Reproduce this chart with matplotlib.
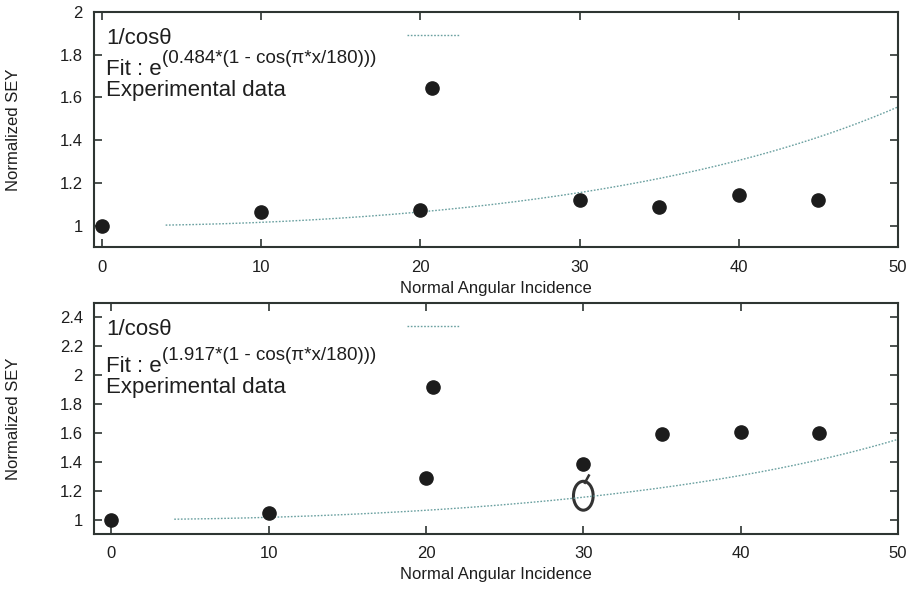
import numpy as np
import matplotlib
matplotlib.use("Agg")
import matplotlib.pyplot as plt
from matplotlib.patches import Ellipse

plt.rcParams['font.family'] = ['Liberation Sans', 'DejaVu Sans']

# measured angles (deg) and normalized secondary electron yield
angles = [0, 10, 20, 30, 35, 40, 45]
sey_a = [1.0, 1.063, 1.071, 1.122, 1.086, 1.142, 1.118]
sey_b = [1.0, 1.048, 1.29, 1.386, 1.595, 1.605, 1.60]

fit_labels = ["(0.484*(1 - cos(\u03c0*x/180)))", "(1.917*(1 - cos(\u03c0*x/180)))"]
x_ticks = [0, 10, 20, 30, 40, 50]
y_ticks_a = [1, 1.2, 1.4, 1.6, 1.8, 2]
y_ticks_b = [1, 1.2, 1.4, 1.6, 1.8, 2, 2.2, 2.4]

# hand drawn loop on the lower plot
ink_x, ink_y = 30, 1.165

theta = np.linspace(4, 50, 200)
inv_cos = 1 / np.cos(np.pi * theta / 180)

curve_col = '#6aa0a0'
dot_col = '#1c1c1c'
frame_col = '#2e3532'
txt_col = '#1e1e1e'

fig = plt.figure(figsize=(9.15, 5.93), dpi=100)
ax1 = fig.add_axes([94 / 915, 1 - 247 / 593, 804 / 915, 235 / 593])
ax2 = fig.add_axes([94 / 915, 1 - 534 / 593, 804 / 915, 231 / 593])


def style(ax, yticks, xmin, ymax, row_y, line_y, mark_xy, fit_txt):
    ax.plot(theta, inv_cos, color=curve_col, lw=1.0, ls=(0, (1.2, 1.2)))
    ax.set_xlim(xmin, 50)
    ax.set_ylim(0.9, ymax)
    ax.set_xticks(x_ticks)
    ax.set_yticks(yticks)
    ax.set_yticklabels([f"{v:g}" for v in yticks])
    ax.tick_params(direction='in', length=6, width=1.2, colors=frame_col,
                   labelcolor=txt_col, labelsize=12, top=True, right=True)
    ax.tick_params(axis='x', pad=9)
    ax.tick_params(axis='y', pad=8)
    for s in ax.spines.values():
        s.set_color(frame_col)
        s.set_linewidth(1.5)
    ax.set_xlabel('Normal Angular Incidence', fontsize=12, color=txt_col)
    ax.set_ylabel('Normalized SEY', fontsize=12, color=txt_col)
    ax.xaxis.set_label_coords(0.5, -0.145)
    ax.yaxis.set_label_coords(-0.091, 0.5)

    # key: text on the left, samples on the right
    ax.text(0.015, row_y[0], '1/cos\u03b8', transform=ax.transAxes,
            fontsize=16, va='center', color=txt_col)
    t = ax.text(0.015, row_y[1], 'Fit : e', transform=ax.transAxes,
                fontsize=16, va='center', color=txt_col)
    ax.annotate(fit_txt, xy=(1.0, 0.62), xycoords=t, va='bottom', ha='left',
                fontsize=13.5, color=txt_col)
    ax.text(0.015, row_y[2], 'Experimental data', transform=ax.transAxes,
            fontsize=16, va='center', color=txt_col)
    ax.plot([0.389, 0.455], [line_y, line_y], transform=ax.transAxes,
            color=curve_col, lw=1.0, ls=(0, (1.2, 1.2)))
    ax.plot([mark_xy[0]], [mark_xy[1]], 'o', transform=ax.transAxes,
            color=dot_col, ms=9.5)


style(ax1, y_ticks_a, -0.5, 2.0, [0.889, 0.757, 0.668], 0.902, (0.420, 0.677), fit_labels[0])
style(ax2, y_ticks_b, -1.1, 2.5, [0.887, 0.727, 0.634], 0.900, (0.4216, 0.636), fit_labels[1])

ax1.plot(angles, sey_a, 'o', color=dot_col, ms=9.5, clip_on=False)
ax2.plot(angles, sey_b, 'o', color=dot_col, ms=9.5, clip_on=False)

ax2.add_patch(Ellipse((ink_x, ink_y), 1.25, 0.2, fill=False,
                      edgecolor='#333333', lw=2.2))
ax2.plot([ink_x + 0.1, ink_x + 0.35], [ink_y + 0.09, ink_y + 0.14],
         color='#333333', lw=1.8)

fig.savefig('out.png', dpi=100)
